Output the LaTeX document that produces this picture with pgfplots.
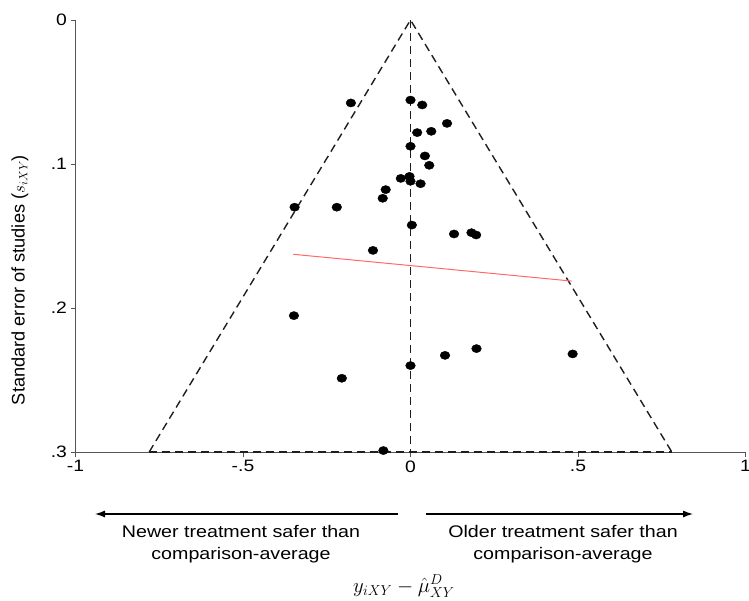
\documentclass[border=0pt]{standalone}
\usepackage{fontspec}
\setmainfont{Liberation Sans}[FakeStretch=1.17]
\newfontfamily\ylabfont{Liberation Sans}
\usepackage{pgfplots}
\pgfplotsset{compat=1.18}
\usetikzlibrary{arrows.meta}
\definecolor{axgray}{RGB}{85,85,85}
\definecolor{fitred}{RGB}{255,105,105}
\definecolor{dashblack}{RGB}{30,30,30}
\begin{document}
\begin{tikzpicture}[x=1pt,y=1pt]
\useasboundingbox (0,0) rectangle (749,601);
\begin{axis}[
  at={(75.5pt,149pt)}, anchor=south west,
  scale only axis, width=670pt, height=432pt,
  xmin=-1, xmax=1, ymin=0, ymax=0.3, y dir=reverse,
  axis x line*=bottom, axis y line*=left,
  axis line style={axgray, line width=0.8pt, -},
  xtick={-1,-0.5,0,0.5,1}, xticklabels={-1,-.5,0,.5,1},
  ytick={0,0.1,0.2,0.3}, yticklabels={0,.1,.2,.3},
  tick align=outside, major tick length=5pt,
  tick style={axgray, line width=0.8pt},
  ticklabel style={font=\fontsize{16.5}{20}\selectfont},
  /pgf/number format/assume math mode=true,
  clip=false,
]
% funnel
\addplot[dashblack, line width=1.4pt, dash pattern=on 8pt off 5pt] coordinates {(-0.78,0.3) (0,0) (0.78,0.3)};
\addplot[dashblack, line width=1.4pt, dash pattern=on 8pt off 5pt] coordinates {(-0.78,0.3) (0.78,0.3)};
\addplot[dashblack, line width=1.4pt, dash pattern=on 8pt off 5pt] coordinates {(0,0) (0,0.3)};
% fitted line
\addplot[fitred, line width=1pt] coordinates {(-0.35,0.1627) (0.481,0.1813)};
% studies
\addplot[only marks, mark=*, mark size=4.1pt, mark options={xscale=1.18}, black] coordinates {
(0.0,0.0556) (0.035,0.059) (0.109,0.0718) (0.020,0.0782) (0.062,0.0773)
(0.0,0.0877) (0.043,0.0944) (0.056,0.1009) (-0.029,0.110) (-0.003,0.1086)
(0.0,0.112) (0.030,0.1137) (-0.074,0.1178) (-0.083,0.1238) (0.004,0.1424)
(0.130,0.1486) (0.182,0.1477) (0.196,0.1493) (-0.112,0.160) (-0.178,0.0576)
(-0.346,0.130) (-0.220,0.130) (-0.348,0.2053) (-0.205,0.2488) (0.0,0.240)
(0.103,0.2329) (0.197,0.2282) (0.484,0.2319) (-0.081,0.299)
};
\end{axis}
\node[rotate=90, font=\ylabfont\fontsize{18.2}{20}\selectfont] at (20,321) {Standard error of studies ($s_{iXY}$)};
\draw[-{Latex[length=10pt,width=7pt]}, line width=1.2pt] (398,87) -- (95,87);
\draw[-{Latex[length=10pt,width=7pt]}, line width=1.2pt] (426,87) -- (693,87);
\node[align=center, font=\fontsize{16.8}{22}\selectfont] at (241,57) {Newer treatment safer than\\comparison-average};
\node[align=center, font=\fontsize{16.8}{22}\selectfont] at (563,57) {Older treatment safer than\\comparison-average};
\node[font=\fontsize{20}{24}\selectfont, inner sep=0pt] at (404,15) {$y_{iXY}-\hat{\mu}_{XY}^{D}$};
\end{tikzpicture}
\end{document}
